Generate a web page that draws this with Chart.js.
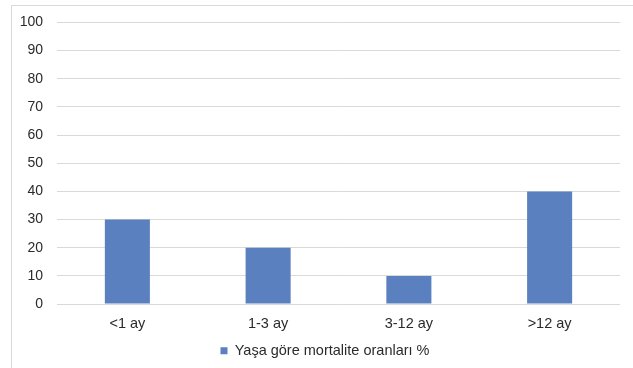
<!DOCTYPE html>
<html>
<head>
<meta charset="utf-8">
<script src="https://cdn.jsdelivr.net/npm/chart.js@4/dist/chart.umd.min.js"></script>
<style>
  html, body { margin: 0; padding: 0; background: #ffffff; }
  #wrap { position: relative; width: 633px; height: 368px; overflow: hidden; }
  #frame { position: absolute; left: 11px; top: 5px; width: 640px; height: 400px;
           border-top: 1px solid #d9d9d9; border-left: 1px solid #d9d9d9; }
  #c { position: absolute; left: 0; top: 0; }
</style>
</head>
<body>
<div id="wrap">
  <div id="frame"></div>
  <canvas id="c" width="633" height="368"></canvas>
</div>
<script>
const categories = ['<1 ay', '1-3 ay', '3-12 ay', '>12 ay'];
const mortalityRates = [30, 20, 10, 40];
const seriesName = 'Yaşa göre mortalite oranları %';
const yMin = 0, yMax = 100, yStep = 10;

const FONT = 'Liberation Sans, Arial, sans-serif';
const TEXT = '#2b2b2b';
const GRID = '#d9d9d9';

// Nudge the legend a little to the right of the canvas centre
const legendShift = {
  id: 'legendShift',
  afterLayout(chart) {
    const lg = chart.legend;
    if (lg) { lg.left += 9; lg.right += 9; }
  }
};

new Chart(document.getElementById('c'), {
  type: 'bar',
  data: {
    labels: categories,
    datasets: [{
      label: seriesName,
      data: mortalityRates,
      backgroundColor: '#5b80bf',
      borderWidth: 0,
      barPercentage: 0.32,
      categoryPercentage: 1.0
    }]
  },
  options: {
    responsive: false,
    animation: false,
    devicePixelRatio: 1,
    layout: { padding: { left: 12, right: 13, top: 13, bottom: 0 } },
    plugins: {
      tooltip: { enabled: false },
      legend: {
        position: 'bottom',
        labels: {
          boxWidth: 7, boxHeight: 7, padding: 10,
          color: TEXT,
          font: { family: FONT, size: 14.5 }
        }
      }
    },
    scales: {
      x: {
        grid: { display: false, drawTicks: false },
        border: { display: false },
        ticks: { color: TEXT, padding: 11, font: { family: FONT, size: 14.5 } },
        afterFit: (scale) => { scale.height = scale.height - 10; }
      },
      y: {
        min: yMin, max: yMax,
        grid: { color: GRID, lineWidth: 1, drawTicks: false },
        border: { display: false },
        ticks: { stepSize: yStep, color: TEXT, padding: 14, font: { family: FONT, size: 14 } },
        afterFit: (scale) => { scale.width = 45; }
      }
    }
  },
  plugins: [legendShift]
});
</script>
</body>
</html>
